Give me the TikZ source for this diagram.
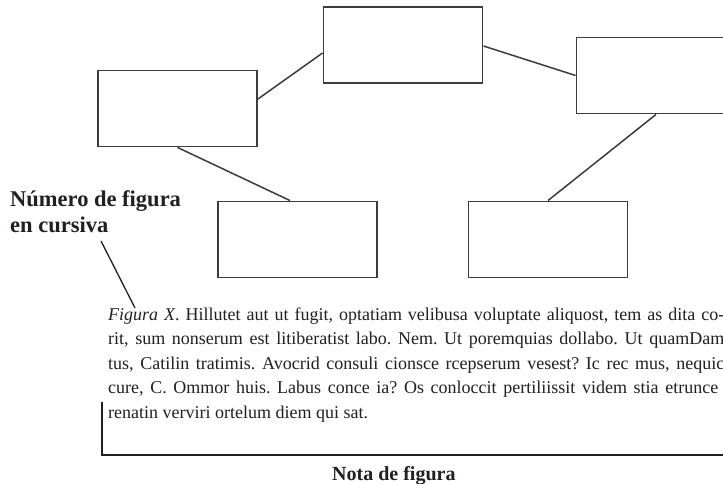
\documentclass[tikz,border=0pt]{standalone}
\usepackage{fontspec}
\setmainfont{Liberation Serif}
\usetikzlibrary{calc}
\definecolor{boxgray}{HTML}{3C3C3C}
\definecolor{inkblack}{HTML}{231F20}
\newcommand{\jline}[1]{\makebox[616pt][s]{#1}}
\frenchspacing
\begin{document}
\begin{tikzpicture}[x=1pt,y=-1pt,
  box/.style={draw=boxgray, line width=1.9pt, minimum width=159pt, minimum height=76pt, inner sep=0pt},
  link/.style={draw=boxgray, line width=1.5pt},
  captxt/.style={anchor=base west, inner sep=0pt, text=inkblack, font=\fontsize{18}{20}\selectfont\frenchspacing},
  lbltxt/.style={anchor=base west, inner sep=0pt, text=inkblack, font=\fontsize{22.5}{26}\selectfont\bfseries},
  notetxt/.style={anchor=base west, inner sep=0pt, text=inkblack, font=\fontsize{20}{22}\selectfont\bfseries}]
\useasboundingbox (0,0) rectangle (723,484);
\fill[white] (0,0) rectangle (723,484);
\clip (0,0) rectangle (723,484);
% boxes
\node[box] (A) at (177.5,108.5) {};
\node[box] (B) at (403,45) {};
\node[box] (C) at (656,75.5) {};
\node[box] (D) at (297.5,239.5) {};
\node[box] (E) at (548,239.5) {};
% connectors
\draw[link] ([yshift=9.5pt]A.east) -- ([yshift=-8pt]B.west);
\draw[link] ([yshift=-1pt]B.east) -- (C.west);
\draw[link] (A.south) -- ([xshift=-7.5pt]D.north);
\draw[link] (C.south) -- (E.north);
% label
\node[lbltxt] (lab1) at (10,206) {Número de figura};
\node[lbltxt] (lab2) at (10,232) {en cursiva};
% caption
\node[captxt] (c1) at (108,320) {\jline{\textit{Figura X}. Hillutet aut ut fugit, optatiam velibusa voluptate aliquost, tem as dita co-}};
\node[captxt] (c2) at (108,344.5) {\jline{rit, sum nonserum est litiberatist labo. Nem. Ut poremquias dollabo. Ut quamDam}};
\node[captxt] (c3) at (108,369) {\jline{tus, Catilin tratimis. Avocrid consuli cionsce rcepserum vesest? Ic rec mus, nequic}};
\node[captxt] (c4) at (108,393.5) {\makebox[610pt][s]{cure, C. Ommor huis. Labus conce ia? Os conloccit pertiliissit videm stia etrunce}};
\node[captxt] (c5) at (108,418) {renatin verviri ortelum diem qui sat.};
% pointer
\coordinate (p1) at (101,241);
\coordinate (p2) at (135,308);
\draw[draw=inkblack, line width=1.3pt] (p1) -- (p2);
% note bracket
\coordinate (b1) at (102,402);
\coordinate (b2) at (102,455);
\coordinate (b3) at (730,455);
\draw[draw=inkblack, line width=1.7pt] (b1) -- (b2) -- (b3);
\node[notetxt] (nota) at (332,480) {Nota de figura};
\end{tikzpicture}
\end{document}
